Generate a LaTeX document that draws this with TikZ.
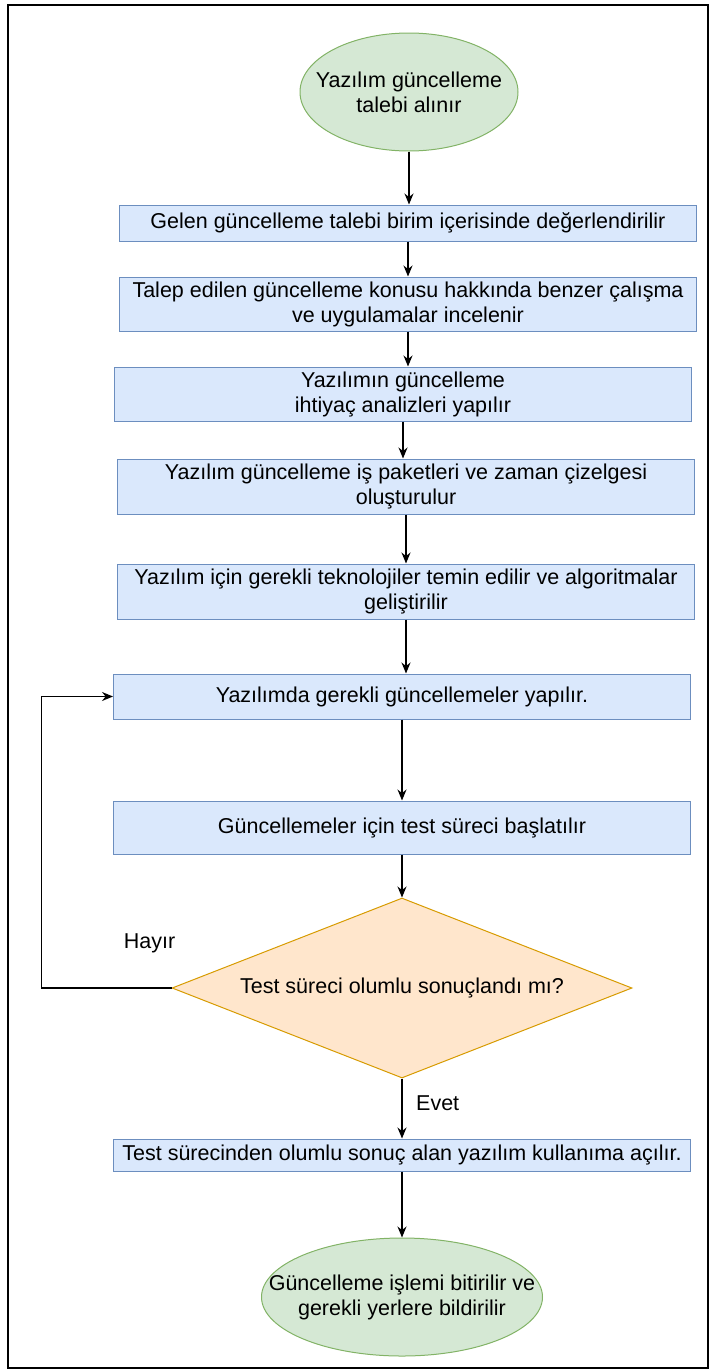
\documentclass[tikz,border=0pt]{standalone}
\usepackage{fontspec}
\setmainfont{Liberation Sans}
\usepackage{tikz}
\usetikzlibrary{shapes, arrows.meta, positioning}

\definecolor{stepfill}{HTML}{DAE8FC}
\definecolor{stepline}{HTML}{6C8EBF}
\definecolor{endfill}{HTML}{D5E8D4}
\definecolor{endline}{HTML}{82B366}
\definecolor{askfill}{HTML}{FFE6CC}
\definecolor{askline}{HTML}{D79B00}

\begin{document}
\begin{tikzpicture}[x=1pt, y=1pt, node distance=35pt, >={Stealth[length=11pt, width=9pt]},
    stepbox/.style={rectangle, draw=stepline, fill=stepfill, line width=1pt, align=center, minimum width=577pt, minimum height=36pt, inner sep=0pt, font=\fontsize{21.5}{25}\selectfont},
    terminal/.style={ellipse, draw=endline, fill=endfill, line width=1pt, align=center, inner sep=-40pt, font=\fontsize{21.5}{25}\selectfont},
    decision/.style={diamond, aspect=2.5, draw=askline, fill=askfill, line width=1pt, align=center, minimum width=460pt, minimum height=180pt, inner sep=0pt, font=\fontsize{21.5}{25}\selectfont},
    note/.style={font=\fontsize{21.5}{25}\selectfont, inner sep=0pt},
    flow/.style={->, line width=1.3pt}]

    \useasboundingbox (0,0) rectangle (711,-1371);
    \draw [line width=1.5pt] (8,-5) rectangle (708,-1368);

    \node (start) [terminal, minimum width=218pt, minimum height=118pt] at (409,-92) {Yazılım güncelleme\\talebi alınır};
    \node (eval) [stepbox, below=53pt of start, xshift=-1pt] {Gelen güncelleme talebi birim içerisinde değerlendirilir};
    \node (survey) [stepbox, below=of eval, minimum height=54pt] {Talep edilen güncelleme konusu hakkında benzer çalışma\\ve uygulamalar incelenir};
    \node (needs) [stepbox, below=of survey, minimum height=54pt, xshift=-5pt] {Yazılımın güncelleme\\ihtiyaç analizleri yapılır};
    \node (plan) [stepbox, below=37pt of needs, minimum height=55pt, xshift=3pt] {Yazılım güncelleme iş paketleri ve zaman çizelgesi\\oluşturulur};
    \node (tech) [stepbox, below=49pt of plan, minimum height=55pt] {Yazılım için gerekli teknolojiler temin edilir ve algoritmalar\\geliştirilir};
    \node (update) [stepbox, below=54pt of tech, minimum height=45pt, xshift=-4pt] {Yazılımda gerekli güncellemeler yapılır.};
    \node (test) [stepbox, below=81pt of update, minimum height=53pt] {Güncellemeler için test süreci başlatılır};
    \node (check) [decision, below=43pt of test] {Test süreci olumlu sonuçlandı mı?};
    \node (release) [stepbox, below=60pt of check, minimum height=32pt] {Test sürecinden olumlu sonuç alan yazılım kullanıma açılır.};
    \node (finish) [terminal, below=66pt of release, minimum width=281pt, minimum height=118pt] {Güncelleme işlemi bitirilir ve\\gerekli yerlere bildirilir};

    % Labels of the decision
    \node (no) [note, above=35pt of check.west, xshift=-22pt] {Hayır};
    \node (yes) [note, below right=17pt and 14pt of check.south] {Evet};

    % Main flow
    \draw [flow] (start) -- (start |- eval.north);
    \draw [flow] (eval) -- (eval |- survey.north);
    \draw [flow] (survey) -- (survey |- needs.north);
    \draw [flow] (needs) -- (needs |- plan.north);
    \draw [flow] (plan) -- (plan |- tech.north);
    \draw [flow] (tech) -- (tech |- update.north);
    \draw [flow] (update) -- (test);
    \draw [flow] (test) -- (check);
    \draw [flow] (check) -- (release);
    \draw [flow] (release) -- (finish);

    % Back to the update step
    \draw [flow] (check.west) -- ++(-130pt,0) |- (update.west);

\end{tikzpicture}
\end{document}
